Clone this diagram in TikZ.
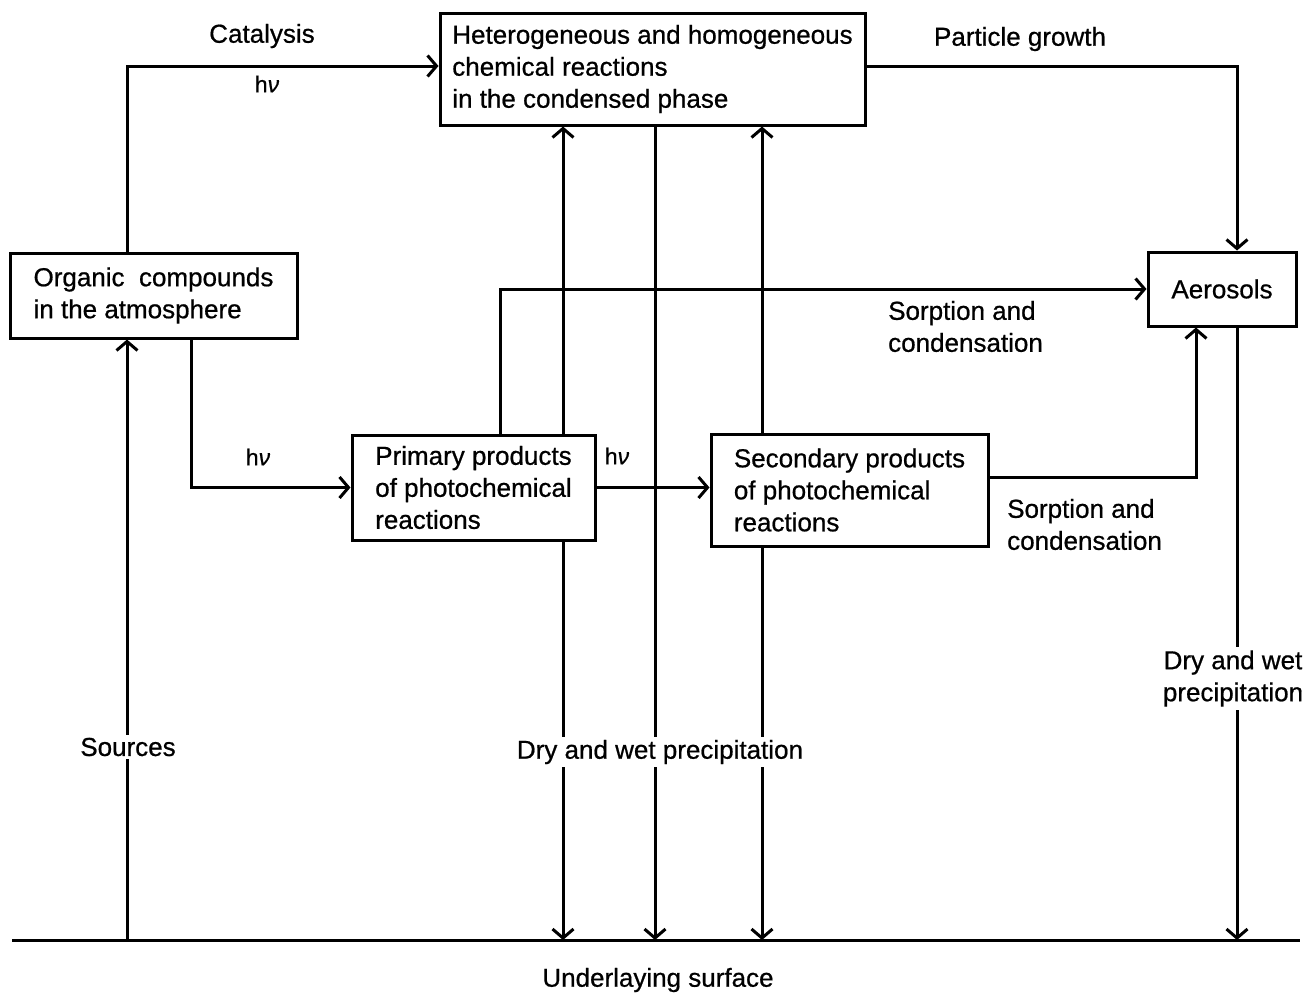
\documentclass[tikz,border=0pt]{standalone}
\usepackage{fontspec}
\setmainfont{Liberation Sans}[FakeBold=0.7]
\usetikzlibrary{arrows.meta}
\tikzset{
  txt/.style={font=\fontsize{26}{32}\selectfont, inner sep=0pt},
  lbl/.style={txt, fill=white, inner xsep=1pt, inner ysep=3pt},
  hv/.style={font=\fontsize{23}{28}\selectfont, inner sep=0pt},
  box/.style={draw, line width=3pt, fill=white, align=left, inner sep=0pt,
              font=\fontsize{26}{32}\selectfont},
  arr/.style={line width=3pt, -{Straight Barb[length=9pt,width=21pt,line width=3pt]}},
  ln/.style={line width=3pt}
}
\newcommand{\hnu}{h\textit{ν}}
\begin{document}
\begin{tikzpicture}[x=1pt,y=-1pt]
\useasboundingbox (0,0) rectangle (1312,994);

% ground
\coordinate (gL) at (12,940);
\coordinate (gR) at (1300,940);
\coordinate (g127) at (127,940);
\coordinate (g191) at (191,940);
\coordinate (g500) at (500,940);
\coordinate (g563) at (563,940);
\coordinate (g655) at (655,940);
\coordinate (g762) at (762,940);
\coordinate (g1196) at (1196,940);
\coordinate (g1237) at (1237,940);
\draw[ln] (gL) -- (gR);

% boxes
\node[box, minimum width=425, minimum height=112] (top) at (652.5,69)
  {Heterogeneous and homogeneous\\chemical reactions\\in the condensed phase};
\node[box, minimum width=287, minimum height=85] (org) at (153.5,295.5)
  {Organic\ \ compounds\\in the atmosphere};
\node[box, minimum width=243, minimum height=105] (prim) at (473.5,487.5)
  {Primary products\\of photochemical\\reactions};
\node[box, minimum width=277, minimum height=112] (sec) at (849.5,490)
  {Secondary products\\of photochemical\\reactions};
\node[box, minimum width=148, minimum height=74] (aer) at (1222,289)
  {Aerosols};

% connectors
\draw[arr] (g127) -- (org.south -| g127);
\draw[arr] (org.north -| g127) |- ([yshift=3pt]top.west);
\draw[arr] ([yshift=3pt]top.east) -| (aer.north -| g1237);
\draw[arr] (org.south -| g191) |- (prim.west);
\draw[arr] (prim.east) -- (sec.west |- prim.east);
\draw[arr] (prim.north -| g500) |- (aer.west);
\draw[arr] ([yshift=13pt]sec.east) -| (aer.south -| g1196);
\draw[arr] (prim.north -| g563) -- (top.south -| g563);
\draw[arr] (prim.south -| g563) -- (g563);
\draw[arr] (top.south -| g655) -- (g655);
\draw[arr] (sec.north -| g762) -- (top.south -| g762);
\draw[arr] (sec.south -| g762) -- (g762);
\draw[arr] (aer.south -| g1237) -- (g1237);

% labels
\node[txt] (lcat) at (262,36) {Catalysis};
\node[hv] (lhv1) at (267,84) {\hnu};
\node[txt] (lpg) at (1020,39) {Particle growth};
\node[hv] (lhv2) at (258,457) {\hnu};
\node[hv] (lhv3) at (617,456) {\hnu};
\node[txt, anchor=west, align=left] (lsc1) at (888,326.5) {Sorption and\\condensation};
\node[txt, anchor=west, align=left] (lsc2) at (1007,524.5) {Sorption and\\condensation};
\node[lbl] (lsrc) at (128,747) {Sources};
\node[lbl] (ldw1) at (660,752) {Dry and wet precipitation};
\node[lbl, align=center] (ldw2) at (1233,678.5) {Dry and wet\\precipitation};
\node[txt] (lus) at (658,980) {Underlaying surface};
\end{tikzpicture}
\end{document}
